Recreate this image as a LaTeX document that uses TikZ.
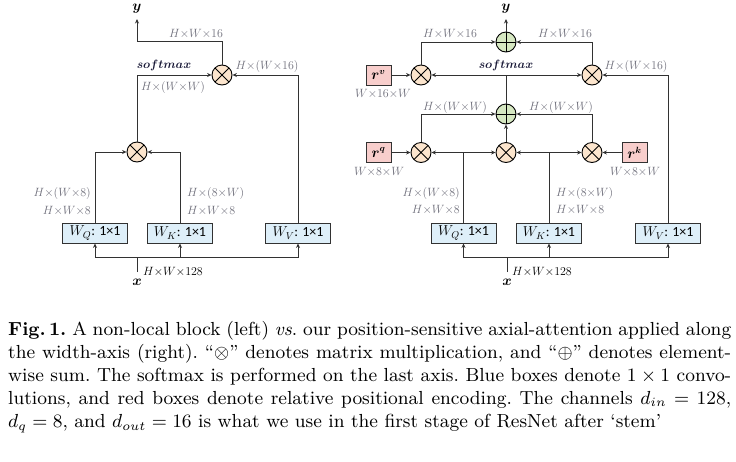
\documentclass[tikz,border=0pt]{standalone}
\usepackage{fontspec}
\usepackage{graphicx}
\newfontfamily\carl{Carlito}
\usetikzlibrary{arrows.meta}
\definecolor{labgray}{RGB}{112,112,124}
\definecolor{linec}{RGB}{50,50,50}
\definecolor{multfill}{RGB}{252,229,205}
\definecolor{plusfill}{RGB}{214,232,194}
\definecolor{convfill}{RGB}{222,239,249}
\definecolor{rfill}{RGB}{248,206,204}
\definecolor{smcol}{RGB}{25,25,55}
\begin{document}
\begin{tikzpicture}[x=1pt,y=-1pt,
  line/.style={draw=linec, line width=0.9pt},
  arr/.style={line, -{Stealth[length=4.5pt,width=4pt]}},
  mult/.style={circle, draw=black, line width=0.9pt, fill=multfill, minimum size=20pt, inner sep=0pt,
    path picture={\draw[line width=0.9pt] (path picture bounding box.center) +(45:11pt) -- +(225:11pt)
      (path picture bounding box.center) +(135:11pt) -- +(-45:11pt);}},
  plusn/.style={circle, draw=black, line width=0.9pt, fill=plusfill, minimum size=20pt, inner sep=0pt,
    path picture={\draw[line width=0.9pt] (path picture bounding box.center) +(0:11pt) -- +(180:11pt)
      (path picture bounding box.center) +(90:11pt) -- +(270:11pt);}},
  conv/.style={rectangle, draw=linec, line width=0.9pt, fill=convfill, minimum width=65pt, minimum height=20pt, inner sep=0pt, font=\fontsize{14}{14}\selectfont},
  rbox/.style={rectangle, draw=linec, line width=0.9pt, fill=rfill, minimum width=25pt, minimum height=20pt, inner sep=0pt, font=\fontsize{13.5}{13.5}\selectfont\boldmath},
  lab/.style={inner sep=0pt, text=labgray, font=\fontsize{11.8}{12}\selectfont},
  sm/.style={inner sep=0pt, text=smcol, font=\fontsize{13}{13}\selectfont\boldmath},
  io/.style={inner sep=0pt, font=\fontsize{15}{15}\selectfont\boldmath}
]
\useasboundingbox (0,0) rectangle (736,461);

% ---------------- left: non-local block ----------------
\node[io] (yL) at (137,9) {$y$};
\coordinate (yLa) at (137,19);
\coordinate (yLc) at (137,41);
\node[mult] (mL2) at (222,75) {};
\node[mult] (mL1) at (137,152) {};
\node[conv] (WQL) at (95,233) {$W_Q${\carl: 1×1}};
\node[conv] (WKL) at (180,233) {$W_K${\carl: 1×1}};
\node[conv] (WVL) at (298,233) {$W_V${\carl: 1×1}};
\coordinate (bL) at (137,257);
\coordinate (xLt) at (137,272);
\node[io] (xL) at (137,282) {$x$};

\draw[arr] (mL2.north) |- (yLc) -- (yLa);
\draw[arr] (mL1.north) |- (mL2.west);
\draw[arr] (WVL.north) |- (mL2.east);
\draw[arr] (WQL.north) |- (mL1.west);
\draw[arr] (WKL.north) |- (mL1.east);
\draw[line] (xLt) -- (bL);
\draw[arr] (bL) -| (WQL.south);
\draw[arr] (bL) -| (WKL.south);
\draw[arr] (bL) -| (WVL.south);

\node[lab] (lL1) at (196,34) {$H{\times}W{\times}16$};
\node[sm] (smL) at (164,65) {$softmax$};
\node[lab] (lL2) at (173,87) {$H{\times}(W{\times}W)$};
\node[lab] (lL3) at (267,66) {$H{\times}(W{\times}16)$};
\node[lab, anchor=east] (lL4) at (91,193) {$H{\times}(W{\times}8)$};
\node[lab, anchor=east] (lL5) at (91,211) {$H{\times}W{\times}8$};
\node[lab, anchor=west] (lL6) at (187,193) {$H{\times}(8{\times}W)$};
\node[lab, anchor=west] (lL7) at (187,211) {$H{\times}W{\times}8$};
\node[lab, anchor=west, text=black] (lL8) at (143,272) {$H{\times}W{\times}128$};

% ---------------- right: position-sensitive axial attention ----------------
\node[io] (yR) at (506,9) {$y$};
\coordinate (yRa) at (506,19);
\node[plusn] (pTop) at (506,42) {};
\node[mult] (mV) at (421,75) {};
\node[mult] (mO) at (592,75) {};
\node[rbox] (rV) at (378.5,75) {$r^v$};
\node[plusn] (pMid) at (506,114) {};
\coordinate (smR) at (506,75);
\node[mult] (mQ) at (421,152.5) {};
\node[mult] (mM) at (506,152.5) {};
\node[mult] (mK) at (592,152.5) {};
\node[rbox] (rQ) at (378.5,152.5) {$r^q$};
\node[rbox] (rK) at (634.5,152.5) {$r^k$};
\node[conv] (WQR) at (463.5,233) {$W_Q${\carl: 1×1}};
\node[conv] (WKR) at (549,233) {$W_K${\carl: 1×1}};
\node[conv] (WVR) at (668,233) {$W_V${\carl: 1×1}};
\coordinate (qj) at (463.5,152.5);
\coordinate (kj) at (549,152.5);
\coordinate (bR) at (507,257);
\coordinate (xRt) at (507,272);
\node[io] (xR) at (507,282) {$x$};

\draw[arr] (pTop.north) -- (yRa);
\draw[arr] (mV.north) |- (pTop.west);
\draw[arr] (mO.north) |- (pTop.east);
\draw[arr] (rV) -- (mV);
\draw[line] (pMid.north) -- (smR);
\draw[arr] (smR) -- (mV.east);
\draw[arr] (smR) -- (mO.west);
\draw[arr] (WVR.north) |- (mO.east);
\draw[arr] (mQ.north) |- (pMid.west);
\draw[arr] (mK.north) |- (pMid.east);
\draw[arr] (mM.north) -- (pMid.south);
\draw[arr] (rQ) -- (mQ);
\draw[arr] (rK) -- (mK);
\draw[line] (WQR.north) -- (qj);
\draw[arr] (qj) -- (mQ.east);
\draw[arr] (qj) -- (mM.west);
\draw[line] (WKR.north) -- (kj);
\draw[arr] (kj) -- (mM.east);
\draw[arr] (kj) -- (mK.west);
\draw[line] (xRt) -- (bR);
\draw[arr] (bR) -| (WQR.south);
\draw[arr] (bR) -| (WKR.south);
\draw[arr] (bR) -| (WVR.south);

\node[lab] (lR1) at (450,34) {$H{\times}W{\times}16$};
\node[lab] (lR2) at (565,34) {$H{\times}W{\times}16$};
\node[sm] (smRl) at (506,65) {$softmax$};
\node[lab] (lR3) at (636,66) {$H{\times}(W{\times}16)$};
\node[lab] (lR4) at (383,94) {$W{\times}16{\times}W$};
\node[lab] (lR5) at (455,107) {$H{\times}(W{\times}W)$};
\node[lab] (lR6) at (561,107) {$H{\times}(W{\times}W)$};
\node[lab] (lR7) at (379,172) {$W{\times}8{\times}W$};
\node[lab] (lR8) at (635,172) {$W{\times}8{\times}W$};
\node[lab, anchor=east] (lR9) at (460,193) {$H{\times}(W{\times}8)$};
\node[lab, anchor=east] (lR10) at (460,210) {$H{\times}W{\times}8$};
\node[lab, anchor=west] (lR11) at (556,193) {$H{\times}(8{\times}W)$};
\node[lab, anchor=west] (lR12) at (556,210) {$H{\times}W{\times}8$};
\node[lab, anchor=west, text=black] (lR13) at (512,272) {$H{\times}W{\times}128$};

% ---------------- caption ----------------
\node[anchor=base west, inner sep=0pt] (cap) at (8,335.5) {\scalebox{2.1}{\parbox[t]{344.3pt}{\fontsize{9}{11}\selectfont\frenchspacing
\hbox to\hsize{\textbf{Fig.\,1.} A non-local block (left) \emph{vs}. our position-sensitive axial-attention applied along}
\hbox to\hsize{the width-axis (right). ``$\otimes$'' denotes matrix multiplication, and ``$\oplus$'' denotes element-}
\hbox to\hsize{wise sum. The softmax is performed on the last axis. Blue boxes denote $1\times 1$ convo-}
\hbox to\hsize{lutions, and red boxes denote relative positional encoding. The channels $d_{in}=128$,}
\hbox{$d_q=8$, and $d_{out}=16$ is what we use in the first stage of ResNet after `stem'}}}};
\end{tikzpicture}
\end{document}
